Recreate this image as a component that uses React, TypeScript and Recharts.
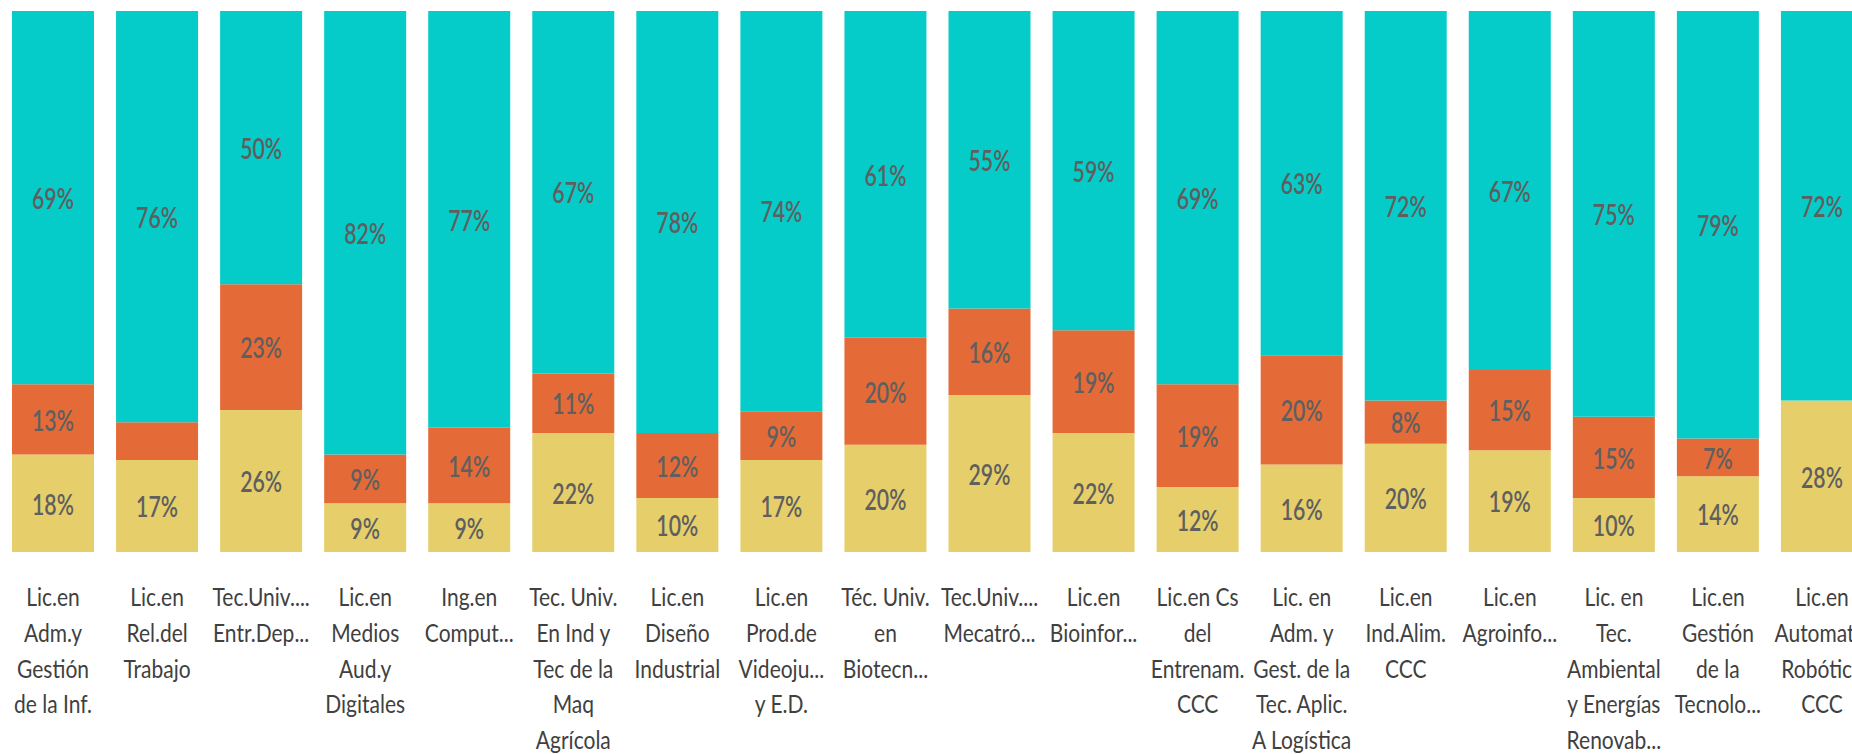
import React from "react";
import { BarChart, Bar, XAxis, YAxis, LabelList } from "recharts";

const categories: string[] = [
  "Lic.en\nAdm.y\nGestión\nde la Inf.",
  "Lic.en\nRel.del\nTrabajo",
  "Tec.Univ....\nEntr.Dep...",
  "Lic.en\nMedios\nAud.y\nDigitales",
  "Ing.en\nComput...",
  "Tec. Univ.\nEn Ind y\nTec de la\nMaq\nAgrícola",
  "Lic.en\nDiseño\nIndustrial",
  "Lic.en\nProd.de\nVideoju...\ny E.D.",
  "Téc. Univ.\nen\nBiotecn...",
  "Tec.Univ....\nMecatró...",
  "Lic.en\nBioinfor...",
  "Lic.en Cs\ndel\nEntrenam.\nCCC",
  "Lic. en\nAdm. y\nGest. de la\nTec. Aplic.\nA Logística",
  "Lic.en\nInd.Alim.\nCCC",
  "Lic.en\nAgroinfo...",
  "Lic. en\nTec.\nAmbiental\ny Energías\nRenovab...",
  "Lic.en\nGestión\nde la\nTecnolo...",
  "Lic.en\nAutomat...\nRobótica\nCCC",
];

const yellowValues: number[] = [18, 17, 26, 9, 9, 22, 10, 17, 20, 29, 22, 12, 16, 20, 19, 10, 14, 28];
const orangeValues: number[] = [13, 7, 23, 9, 14, 11, 12, 9, 20, 16, 19, 19, 20, 8, 15, 15, 7, 0];
const tealValues: number[] = [69, 76, 50, 82, 77, 67, 78, 74, 61, 55, 59, 69, 63, 72, 67, 75, 79, 72];
const orangeLabels: (number | null)[] = [13, null, 23, 9, 14, 11, 12, 9, 20, 16, 19, 19, 20, 8, 15, 15, 7, null];

const data = categories.map((name, i) => ({
  name,
  yellow: yellowValues[i],
  orange: orangeValues[i],
  teal: tealValues[i],
  orangeLabel: orangeLabels[i],
}));

const FONT = "Lato, 'Open Sans', 'DejaVu Sans', sans-serif";

const CategoryTick = (props: any) => {
  const { x, y, payload } = props;
  const lines: string[] = String(payload.value).split("\n");
  return (
    <g transform={`translate(${x} ${y}) scale(0.84 1)`}>
      <text x={0} y={0} textAnchor="middle" fill="#404040" fontSize={25} fontFamily={FONT}>
        {lines.map((l, i) => (
          <tspan key={i} x={0} y={54 + i * 35.8}>
            {l}
          </tspan>
        ))}
      </text>
    </g>
  );
};

const SegmentLabel = (p: any) => {
  const vb = p.viewBox && p.viewBox.width !== undefined ? p.viewBox : p;
  const { x, y, width, height } = vb;
  const v = p.value;
  if (v === null || v === undefined || !height) return null;
  const cx = Number(x) + Number(width) / 2;
  const cy = Number(y) + Number(height) / 2;
  return (
    <g transform={`translate(${cx} ${cy}) scale(0.76 1)`}>
      <text
        x={0}
        y={0}
        textAnchor="middle"
        dominantBaseline="central"
        fill="#5f5f5f"
        fontSize={28}
        fontWeight={600}
        fontFamily={FONT}
      >
        {`${v}%`}
      </text>
    </g>
  );
};

export default function App() {
  return (
    <div
      style={{
        position: "absolute",
        left: 0,
        top: 0,
        width: 1852,
        height: 754,
        overflow: "hidden",
        background: "#ffffff",
      }}
    >
      <BarChart
        width={1874}
        height={754}
        data={data}
        stackOffset="expand"
        barSize={82}
        margin={{ top: 11, right: 0, left: 1, bottom: 0 }}
      >
        <XAxis
          dataKey="name"
          interval={0}
          tickLine={false}
          axisLine={false}
          tickSize={0}
          tickMargin={0}
          height={202}
          tick={<CategoryTick />}
        />
        <YAxis hide domain={[0, 1]} />
        <Bar dataKey="yellow" stackId="a" fill="#E6CF6B" isAnimationActive={false}>
          <LabelList dataKey="yellow" content={SegmentLabel} />
        </Bar>
        <Bar dataKey="orange" stackId="a" fill="#E46B38" isAnimationActive={false}>
          <LabelList dataKey="orangeLabel" content={SegmentLabel} />
        </Bar>
        <Bar dataKey="teal" stackId="a" fill="#05CCC8" isAnimationActive={false}>
          <LabelList dataKey="teal" content={SegmentLabel} />
        </Bar>
      </BarChart>
    </div>
  );
}
